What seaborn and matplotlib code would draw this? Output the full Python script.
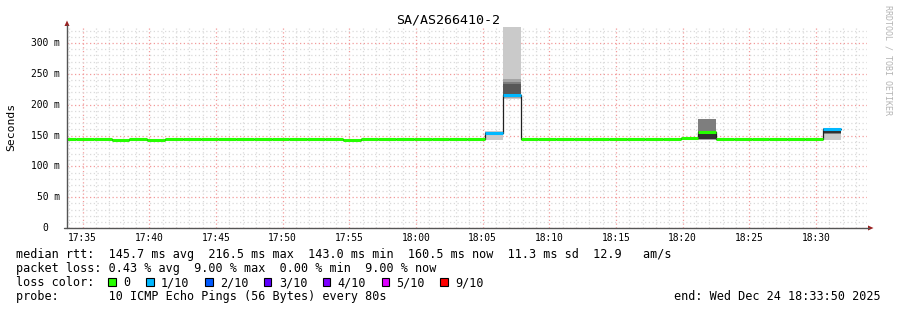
import numpy as np
import pandas as pd
import matplotlib
matplotlib.use("Agg")
import matplotlib.pyplot as plt
import matplotlib.transforms as mtransforms
from matplotlib.patches import Rectangle, Polygon
from matplotlib.lines import Line2D
from matplotlib.ticker import MultipleLocator, FixedLocator
import seaborn as sns

# ---------------- data ----------------
title = "SA/AS266410-2"
window_start = "17:33:50"
window_end = "18:33:50"
first_step = "17:33:11"
step_seconds = 80

median_ms = [144.0, 144.0, 144.0, 143.0, 144.0, 143.0,
             144.0, 144.0, 144.0, 144.0, 144.0, 144.0, 144.0, 144.0, 144.0, 144.0,
             143.0,
             144.0, 144.0, 144.0, 144.0, 144.0, 144.0, 144.0,
             153.7, 216.5,
             144.0, 144.0, 144.0, 144.0, 144.0, 144.0, 144.0, 144.0, 144.0,
             146.0, 156.0,
             144.0, 144.0, 144.0, 144.0, 144.0, 144.0,
             160.5]
loss_tenths = [0] * 24 + [1, 1] + [0] * 17 + [1]

pings_1805 = [143.5, 151.0, 152.0, 152.5, 153.0, 154.0, 154.5, 155.0, 156.0, 157.0]
pings_1806 = [208.5, 211.0, 213.0, 215.0, 216.0, 217.0, 233.0, 236.0, 241.0, 420.0]
pings_1821 = [143.5, 143.5, 143.6, 143.6, 143.7, 156.0, 158.0, 176.0, 176.0, 176.0]
pings_1831 = [143.5, 153.0, 153.2, 153.4, 153.6, 158.0, 160.0, 161.0, 161.5, 162.0]
smoke_steps = {24: pings_1805, 25: pings_1806, 36: pings_1821, 43: pings_1831}

x_tick_labels = ["17:35", "17:40", "17:45", "17:50", "17:55", "18:00",
                 "18:05", "18:10", "18:15", "18:20", "18:25", "18:30"]
y_tick_values = [0, 50, 100, 150, 200, 250, 300]
y_tick_labels = ["0", "50 m", "100 m", "150 m", "200 m", "250 m", "300 m"]

loss_labels = ["0", "1/10", "2/10", "3/10", "4/10", "5/10", "9/10"]
loss_levels = [0, 1, 2, 3, 4, 5, 9]
loss_colors = ["#26ff00", "#00b8ff", "#0059ff", "#5e00ff", "#7e00ff", "#dd00ff", "#ff0000"]

legend_rows = [
    "median rtt:  145.7 ms avg  216.5 ms max  143.0 ms min  160.5 ms now  11.3 ms sd  12.9   am/s",
    "packet loss: 0.43 % avg  9.00 % max  0.00 % min  9.00 % now",
    "loss color:",
    "probe:       10 ICMP Echo Pings (56 Bytes) every 80s",
]
end_text = "end: Wed Dec 24 18:33:50 2025"
watermark = "RRDTOOL / TOBI OETIKER"
y_label = "Seconds"


def secs(hms):
    parts = [int(p) for p in hms.split(":")]
    while len(parts) < 3:
        parts.append(0)
    return parts[0] * 3600 + parts[1] * 60 + parts[2]


t0 = secs(window_start)
t_end = secs(window_end) - t0
step0 = secs(first_step) - t0
starts = [step0 + step_seconds * i for i in range(len(median_ms))]

# ---------------- style ----------------
sns.set_theme(style="white")
plt.rcParams["font.family"] = ["DejaVu Sans Mono", "DejaVu Sans"]
plt.rcParams["text.color"] = "black"

W, H = 897, 310
fig = plt.figure(figsize=(W / 100, H / 100), dpi=100, facecolor="white")


def fx(x):
    return x / W


def fy(y):
    return 1 - y / H


ax = fig.add_axes([fx(67), fy(228), 800 / W, (228 - 27) / H])
ax.set_facecolor("white")
ax.set_xlim(0, t_end)
ax.set_ylim(0, 326)
for s in ax.spines.values():
    s.set_visible(False)

# grid
ax.set_xticks([secs(l) - t0 for l in x_tick_labels])
ax.set_xticklabels(x_tick_labels, fontsize=6.9)
ax.xaxis.set_minor_locator(FixedLocator(np.arange(secs("17:34") - t0, t_end, 60)))
ax.set_yticks(y_tick_values)
ax.yaxis.set_minor_locator(MultipleLocator(10))
ax.tick_params(axis="both", which="both", length=0)
ax.tick_params(axis="x", pad=3.5, colors="black")
ax.tick_params(axis="y", labelleft=False)
ax.grid(which="minor", color="#dadada", lw=0.9, ls=(0, (1, 2)))
ax.grid(which="major", color="#f29a9a", lw=0.9, ls=(0, (1, 2)))
ax.set_axisbelow(True)

# smoke
for i, p in smoke_steps.items():
    p = sorted(p)
    n = len(p)
    half = n / 2
    for j in range(n // 2):
        lo, hi = p[j], p[n - 1 - j]
        level = int(190 / half * (half - (j + 1))) + 50
        col = "#" + ("%02x" % level) * 3
        ax.bar(starts[i], hi - lo, bottom=lo, width=step_seconds, align="edge",
               color=col, lw=0, zorder=1.5)

# thin median connector line
df_line = pd.DataFrame({"t": starts + [starts[-1] + step_seconds],
                        "ms": median_ms + [median_ms[-1]]})
sns.lineplot(data=df_line, x="t", y="ms", drawstyle="steps-post", color="#202020",
             lw=0.9, estimator=None, sort=False, ax=ax, zorder=2)

# coloured median segments by loss
rows = []
for i, (s, m, l) in enumerate(zip(starts, median_ms, loss_tenths)):
    rows.append((i, s, m, l))
    rows.append((i, s + step_seconds, m, l))
df_seg = pd.DataFrame(rows, columns=["step", "t", "ms", "loss"])
palette = {lvl: c for lvl, c in zip(loss_levels, loss_colors)}
sns.lineplot(data=df_seg, x="t", y="ms", hue="loss", units="step", estimator=None,
             palette=palette, lw=2.2, legend=False, sort=False, ax=ax,
             solid_capstyle="butt", zorder=3)
ax.set_xlabel("")
ax.set_ylabel("")

# y tick labels
blend = mtransforms.blended_transform_factory(fig.transFigure, ax.transData)
for v, lab in zip(y_tick_values, y_tick_labels):
    xr = 60 if lab != "0" else 48
    ax.text(fx(xr), v, lab, transform=blend, ha="right", va="center",
            fontsize=6.9, clip_on=False)

# axes lines and arrows
axis_col = "#555555"
arrow_col = "#9a2020"
fig.add_artist(Line2D([fx(67), fx(67)], [fy(228), fy(25)], color=axis_col, lw=1,
                      transform=fig.transFigure))
fig.add_artist(Line2D([fx(64), fx(869)], [fy(228), fy(228)], color=axis_col, lw=1,
                      transform=fig.transFigure))
fig.add_artist(Polygon([[fx(64.5), fy(26)], [fx(69.5), fy(26)], [fx(67), fy(20.5)]],
                       closed=True, color=arrow_col, transform=fig.transFigure, lw=0))
fig.add_artist(Polygon([[fx(868), fy(225.5)], [fx(868), fy(230.5)], [fx(873.5), fy(228)]],
                       closed=True, color=arrow_col, transform=fig.transFigure, lw=0))

# title, labels
fig.text(fx(448.5), fy(23.5), title, ha="center", va="baseline", fontsize=9.6)
fig.text(fx(11), fy(127), y_label, rotation=90, ha="center", va="center", fontsize=8.2)
fig.text(fx(887.5), fy(60), watermark, rotation=270, ha="center", va="center",
         fontsize=6, color="#b4b4b4")

# legend rows
baselines = [258, 272, 286, 300]
for txt, b in zip(legend_rows, baselines):
    fig.text(fx(16), fy(b), txt, ha="left", va="baseline", fontsize=8.5)
fig.text(fx(880.5), fy(300), end_text, ha="right", va="baseline", fontsize=8.5)

# loss colour boxes
char_w = 7.1
bx = 108.3
for lab, col in zip(loss_labels, loss_colors):
    fig.add_artist(Rectangle((fx(bx), fy(286)), 7.7 / W, 7.7 / H, facecolor=col,
                             edgecolor="black", lw=0.8, transform=fig.transFigure))
    tx = bx + 15
    fig.text(fx(tx), fy(286), lab, ha="left", va="baseline", fontsize=8.5)
    bx = tx + len(lab) * char_w + 15.5

fig.savefig("out.png", dpi=100, facecolor="white")
